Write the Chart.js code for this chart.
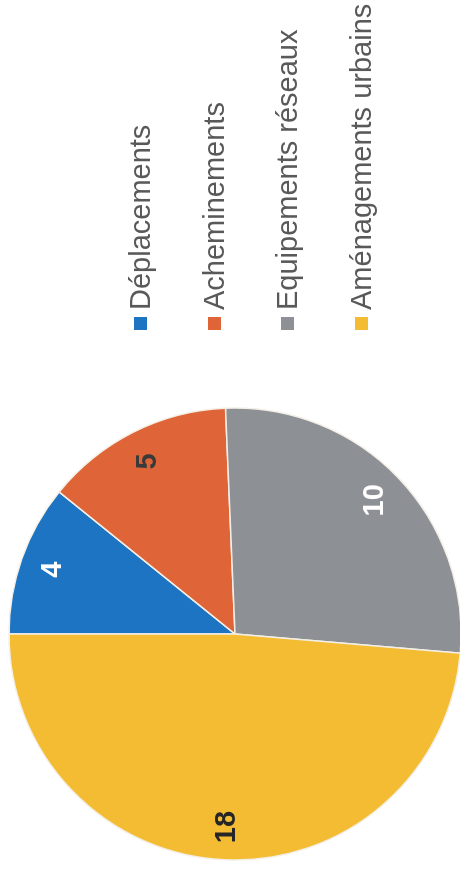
<!DOCTYPE html>
<html>
<head>
<meta charset="utf-8">
<script src="https://cdn.jsdelivr.net/npm/chart.js@4/dist/chart.umd.min.js"></script>
<style>
	html, body {
		margin: 0;
		padding: 0;
		background: #fff;
		overflow: hidden;
	}
	/* the chart is laid out landscape, then turned a quarter to the left */
	#sheet {
		position: absolute;
		left: 0;
		top: 0;
		width: 881px;
		height: 460px;
		transform-origin: 0 0;
		transform: translate(0, 881px) rotate(-90deg);
		background: #fff;
		overflow: hidden;
	}
	#chartBox {
		position: absolute;
		left: 0;
		top: 0;
		width: 881px;
		height: 460px;
	}
	#legend {
		position: absolute;
		left: 551px;
		top: 0;
		width: 330px;
		height: 460px;
		font-family: "Liberation Sans", Arial, sans-serif;
		font-size: 29px;
		color: #595959;
	}
	.item {
		position: absolute;
		left: 0;
		white-space: nowrap;
		line-height: 30px;
		height: 30px;
	}
	.item span.box {
		display: inline-block;
		width: 13px;
		height: 13px;
		margin-right: 7px;
		vertical-align: middle;
		position: relative;
		top: -2px;
	}
</style>
</head>
<body>
<div id="sheet">
	<div id="chartBox"><canvas id="pieChart"></canvas></div>
	<div id="legend"></div>
</div>
<script>
const categories = ["Déplacements", "Acheminements", "Equipements réseaux", "Aménagements urbains"];
const counts = [4, 5, 10, 18];
const sliceColors = ["#1d74c2", "#df6538", "#8d9196", "#f4bc33"];
const labelColors = ["#ffffff", "#3a3a3a", "#ffffff", "#262626"];

// legend column, one row per category
const legend = document.getElementById('legend');
categories.forEach((name, i) => {
	const row = document.createElement('div');
	row.className = 'item';
	row.style.top = (125 + i * 73.7) + 'px';
	const box = document.createElement('span');
	box.className = 'box';
	box.style.background = sliceColors[i];
	row.appendChild(box);
	row.appendChild(document.createTextNode(name));
	legend.appendChild(row);
});

// value written inside each slice, near the rim
const sliceValues = {
	id: 'sliceValues',
	afterDatasetsDraw(chart) {
		const ctx = chart.ctx;
		const meta = chart.getDatasetMeta(0);
		ctx.save();
		ctx.font = 'bold 29px "Liberation Sans", Arial, sans-serif';
		ctx.textAlign = 'center';
		ctx.textBaseline = 'middle';
		meta.data.forEach((arc, i) => {
			const p = arc.getProps(['x', 'y', 'startAngle', 'endAngle', 'outerRadius'], true);
			const mid = (p.startAngle + p.endAngle) / 2;
			const r = p.outerRadius * 0.855;
			ctx.fillStyle = labelColors[i];
			ctx.fillText(String(counts[i]), p.x + Math.cos(mid) * r, p.y + Math.sin(mid) * r);
		});
		ctx.restore();
	}
};

const ctx = document.getElementById('pieChart');
new Chart(ctx, {
	type: 'pie',
	data: {
		labels: categories,
		datasets: [{
			data: counts,
			backgroundColor: sliceColors,
			borderColor: '#f4efe6',
			borderWidth: 1.5
		}]
	},
	options: {
		responsive: true,
		maintainAspectRatio: false,
		animation: false,
		radius: 226,
		layout: {
			padding: {left: 0, right: 387, top: 10, bottom: 0}
		},
		plugins: {
			legend: {display: false},
			tooltip: {enabled: false}
		}
	},
	plugins: [sliceValues]
});
</script>
</body>
</html>
